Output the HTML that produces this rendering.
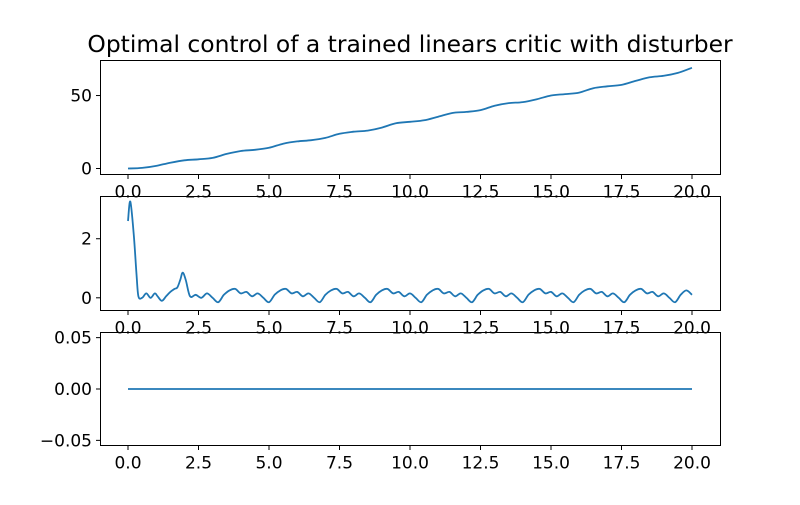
<!DOCTYPE html>
<html><head><meta charset="utf-8"><style>
body{margin:0;background:#fff}
svg text{font-family:"DejaVu Sans","Liberation Sans",sans-serif;fill:#000}
</style></head><body>
<svg id="c" width="800" height="500" xmlns="http://www.w3.org/2000/svg">
<rect width="800" height="500" fill="#fff"/>
<text x="410" y="52" font-size="23.4" text-anchor="middle">Optimal control of a trained linears critic with disturber</text>
</svg>
<script>
const xTicks=[0,2.5,5,7.5,10,12.5,15,17.5,20];
const xTickLabels=["0.0","2.5","5.0","7.5","10.0","12.5","15.0","17.5","20.0"];
const t1=[0,0.5,1,1.5,2,2.5,3,3.5,4,4.5,5,5.5,6,6.5,7,7.5,8,8.5,9,9.5,10,10.5,11,11.5,12,12.5,13,13.5,14,14.5,15,15.5,16,16.5,17,17.5,18,18.5,19,19.5,20];
const y1=[0,0.4,1.8,4,5.6,6.3,7.3,10,12,12.8,14.2,17,18.6,19.4,21,23.8,25.2,26,28,31,32,33,35.5,38,38.8,40,43,44.8,45.5,47.5,50,51,52,55,56.3,57.3,60,62.5,63.5,65.5,69];
const t2=[0,0.08,0.2,0.3,0.37,0.5,0.65,0.8,0.95,1.05,1.2,1.35,1.5,1.65,1.75,1.85,1.94,2.05];
const y2=[2.6,3.26,2.2,0.8,0.05,0.0,0.15,0.0,0.15,0.05,-0.1,0.05,0.2,0.3,0.35,0.6,0.85,0.6];
const t2b=[2.2,2.4,2.6,2.8,3.0,3.2,3.4,3.6,3.8,4.0,4.2,4.4,4.6,4.8,5.0,5.2,5.4,5.6,5.8,6.0,6.2,6.4,6.6,6.8,7.0,7.2,7.4,7.6,7.8,8.0,8.2,8.4,8.6,8.8,9.0,9.2,9.4,9.6,9.8,10.0,10.2,10.4,10.6,10.8,11.0,11.2,11.4,11.6,11.8,12.0,12.2,12.4,12.6,12.8,13.0,13.2,13.4,13.6,13.8,14.0,14.2,14.4,14.6,14.8,15.0,15.2,15.4,15.6,15.8,16.0,16.2,16.4,16.6,16.8,17.0,17.2,17.4,17.6,17.8,18.0,18.2,18.4,18.6,18.8,19.0,19.2,19.4,19.6,19.8,20.0];
const y2b=[0.05,0.1,0.0,0.15,0.0,-0.15,0.1,0.25,0.3,0.15,0.2,0.05,0.15,0.0,-0.15,0.1,0.25,0.3,0.15,0.2,0.05,0.15,0.0,-0.15,0.1,0.25,0.3,0.15,0.2,0.05,0.15,0.0,-0.15,0.1,0.25,0.3,0.15,0.2,0.05,0.15,0.0,-0.15,0.1,0.25,0.3,0.15,0.2,0.05,0.15,0.0,-0.15,0.1,0.25,0.3,0.15,0.2,0.05,0.15,0.0,-0.15,0.1,0.25,0.3,0.15,0.2,0.05,0.15,0.0,-0.15,0.1,0.25,0.3,0.15,0.2,0.05,0.15,0.0,-0.15,0.1,0.25,0.3,0.15,0.2,0.05,0.15,0.0,-0.15,0.1,0.25,0.1];
const t3=[0,20];
const y3=[0,0];
const yTicks1=[0,50], yTickLabels1=["0","50"];
const yTicks2=[0,2], yTickLabels2=["0","2"];
const yTicks3=[-0.05,0,0.05], yTickLabels3=["\u22120.05","0.00","0.05"];

const svg=document.getElementById('c');
const NS='http://www.w3.org/2000/svg';
function el(tag,attrs,parent){const e=document.createElementNS(NS,tag);for(const k in attrs)e.setAttribute(k,attrs[k]);(parent||svg).appendChild(e);return e;}
const X=t=>128+t*28.2;
function smooth(pts){
  let d='M'+pts[0][0].toFixed(1)+' '+pts[0][1].toFixed(1);
  for(let i=0;i<pts.length-1;i++){
    const p0=pts[Math.max(0,i-1)],p1=pts[i],p2=pts[i+1],p3=pts[Math.min(pts.length-1,i+2)];
    const c1=[p1[0]+(p2[0]-p0[0])/6,p1[1]+(p2[1]-p0[1])/6];
    const c2=[p2[0]-(p3[0]-p1[0])/6,p2[1]-(p3[1]-p1[1])/6];
    d+=' C'+c1.map(v=>v.toFixed(1)).join(' ')+' '+c2.map(v=>v.toFixed(1)).join(' ')+' '+p2.map(v=>v.toFixed(1)).join(' ');
  }
  return d;
}
function panel(name,top,bottom,ymin,ymax,ts,ys,yt,ytl){
  const g=el('g',{});
  
  
  const Y=v=>bottom-(v-ymin)/(ymax-ymin)*(bottom-top);
  const d=smooth(ts.map((t,i)=>[X(t),Y(ys[i])]));
  const p=el('path',{d:d,fill:'none',stroke:'#1f77b4','stroke-width':1.8,'stroke-linejoin':'round'},g);
  
  
  const r=el('rect',{x:100.5,y:top,width:620,height:bottom-top,fill:'none',stroke:'#000','stroke-width':1},g);
  
  
  xTicks.forEach((t,i)=>{
    el('line',{x1:X(t),x2:X(t),y1:bottom,y2:bottom+4.5,stroke:'#000'},g);
    const tx=el('text',{x:X(t),y:bottom+23,'font-size':17,'text-anchor':'middle'},g);
    tx.textContent=xTickLabels[i];
    
    
  });
  yt.forEach((v,i)=>{
    el('line',{x1:100.5,x2:96,y1:Y(v),y2:Y(v),stroke:'#000'},g);
    const tx=el('text',{x:92,y:Y(v)+6,'font-size':17,'text-anchor':'end'},g);
    tx.textContent=ytl[i];
    
    
  });
}
panel('position-axes',60.5,174.5,-4.1,74,t1,y1,yTicks1,yTickLabels1);
panel('velocity-axes',196.5,310.5,-0.43,3.43,t2.concat(t2b),y2.concat(y2b),yTicks2,yTickLabels2);
panel('control-axes',332.5,445.5,-0.055,0.055,t3,y3,yTicks3,yTickLabels3);
</script>
</body></html>
